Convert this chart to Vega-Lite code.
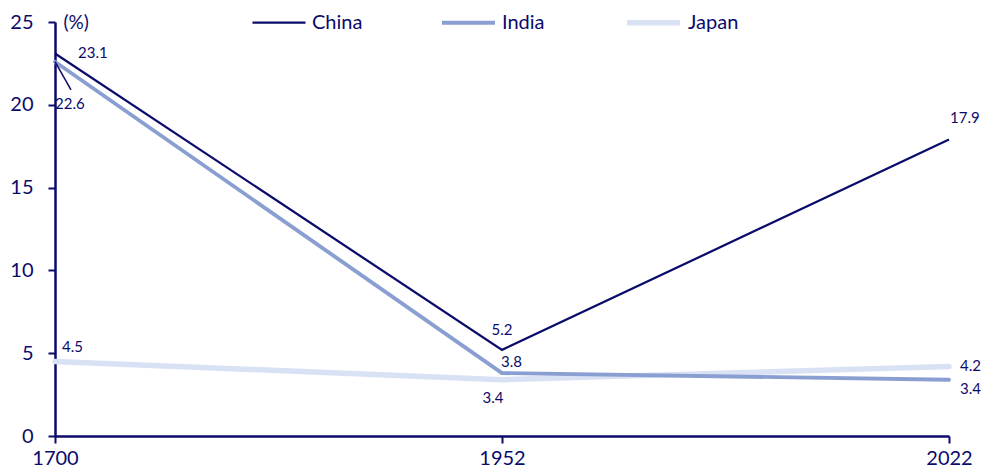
{
  "$schema": "https://vega.github.io/schema/vega-lite/v6.json",
  "width": 894,
  "height": 414,
  "autosize": "none",
  "padding": {"left": 55, "top": 22, "right": 35, "bottom": 36},
  "background": "white",
  "config": {
    "font": "Lato",
    "view": {"stroke": null},
    "text": {"font": "Lato", "fontSize": 15, "color": "#0b0b6b"}
  },
  "data": {
    "values": [
      {"year": "1700", "series": "China", "value": 23.1},
      {"year": "1952", "series": "China", "value": 5.2},
      {"year": "2022", "series": "China", "value": 17.9},
      {"year": "1700", "series": "India", "value": 22.6},
      {"year": "1952", "series": "India", "value": 3.8},
      {"year": "2022", "series": "India", "value": 3.4},
      {"year": "1700", "series": "Japan", "value": 4.5},
      {"year": "1952", "series": "Japan", "value": 3.4},
      {"year": "2022", "series": "Japan", "value": 4.2}
    ]
  },
  "encoding": {
    "x": {
      "field": "year",
      "type": "ordinal",
      "scale": {"type": "point", "padding": 0},
      "axis": {
        "title": null,
        "labelAngle": 0,
        "labelFont": "Lato",
        "labelFontSize": 20,
        "labelColor": "#0b0b6b",
        "labelPadding": 5,
        "domainColor": "#0b0b6b",
        "domainWidth": 2.5,
        "tickColor": "#0b0b6b",
        "tickWidth": 2,
        "tickSize": 7
      }
    },
    "y": {
      "field": "value",
      "type": "quantitative",
      "scale": {"domain": [0, 25], "nice": false, "zero": true},
      "axis": {
        "title": "(%)",
        "titleAngle": 0,
        "titleAlign": "left",
        "titleBaseline": "middle",
        "titleX": 8,
        "titleY": 0,
        "titleFont": "Lato",
        "titleFontSize": 19,
        "titleFontWeight": "normal",
        "titleColor": "#0b0b6b",
        "values": [0, 5, 10, 15, 20, 25],
        "grid": false,
        "labelFont": "Lato",
        "labelFontSize": 20,
        "labelColor": "#0b0b6b",
        "labelPadding": 15,
        "domainColor": "#0b0b6b",
        "domainWidth": 2.5,
        "tickColor": "#0b0b6b",
        "tickWidth": 2,
        "tickSize": 7
      }
    }
  },
  "layer": [
    {
      "transform": [{"filter": "datum.series === 'Japan'"}],
      "mark": {"type": "line", "strokeCap": "round", "strokeJoin": "round"},
      "encoding": {
        "color": {"field": "series", "type": "nominal"},
        "strokeWidth": {"field": "series", "type": "nominal"}
      }
    },
    {
      "transform": [{"filter": "datum.series === 'India'"}],
      "mark": {"type": "line", "strokeCap": "round", "strokeJoin": "round"},
      "encoding": {
        "color": {"field": "series", "type": "nominal"},
        "strokeWidth": {"field": "series", "type": "nominal"}
      }
    },
    {
      "transform": [{"filter": "datum.series === 'China'"}],
      "mark": {"type": "line", "strokeJoin": "miter"},
      "encoding": {
        "color": {
          "field": "series",
          "type": "nominal",
          "scale": {"domain": ["China", "India", "Japan"], "range": ["#0b0b6b", "#8a9fd1", "#d9e1f4"]},
          "legend": {
            "title": null,
            "orient": "none",
            "direction": "horizontal",
            "legendX": 196,
            "legendY": -29,
            "symbolType": "stroke",
            "symbolSize": 2809,
            "labelFont": "Lato",
            "labelFontSize": 20,
            "labelColor": "#0b0b6b",
            "labelOffset": 5,
            "columnPadding": 71
          }
        },
        "strokeWidth": {
          "field": "series",
          "type": "nominal",
          "scale": {"domain": ["China", "India", "Japan"], "range": [2.25, 5.5, 5.5]},
          "legend": {
            "title": null,
            "orient": "none",
            "direction": "horizontal",
            "legendX": 196,
            "legendY": -29,
            "symbolType": "stroke",
            "symbolSize": 2809,
            "labelFont": "Lato",
            "labelFontSize": 20,
            "labelColor": "#0b0b6b",
            "labelOffset": 5,
            "columnPadding": 71
          }
        }
      }
    },
    {
      "transform": [{"filter": "datum.series === 'India' && datum.year === '1700'"}],
      "mark": {"type": "rule", "color": "#0b0b6b", "strokeWidth": 1.5, "x2Offset": 16},
      "encoding": {
        "x2": {"field": "year"},
        "y2": {"datum": 20.9}
      }
    },
    {
      "transform": [{"filter": "datum.series === 'China' && datum.year === '1700'"}],
      "mark": {"type": "text", "align": "left", "baseline": "middle", "dx": 23, "dy": 0},
      "encoding": {"text": {"field": "value", "format": ".1f"}}
    },
    {
      "transform": [{"filter": "datum.series === 'India' && datum.year === '1700'"}],
      "mark": {"type": "text", "align": "left", "baseline": "middle", "dx": 0, "dy": 42},
      "encoding": {"text": {"field": "value", "format": ".1f"}}
    },
    {
      "transform": [{"filter": "datum.series === 'Japan' && datum.year === '1700'"}],
      "mark": {"type": "text", "align": "left", "baseline": "middle", "dx": 7, "dy": -14},
      "encoding": {"text": {"field": "value", "format": ".1f"}}
    },
    {
      "transform": [{"filter": "datum.series === 'China' && datum.year === '1952'"}],
      "mark": {"type": "text", "align": "center", "baseline": "middle", "dx": 0, "dy": -20},
      "encoding": {"text": {"field": "value", "format": ".1f"}}
    },
    {
      "transform": [{"filter": "datum.series === 'India' && datum.year === '1952'"}],
      "mark": {"type": "text", "align": "left", "baseline": "middle", "dx": -1, "dy": -11},
      "encoding": {"text": {"field": "value", "format": ".1f"}}
    },
    {
      "transform": [{"filter": "datum.series === 'Japan' && datum.year === '1952'"}],
      "mark": {"type": "text", "align": "center", "baseline": "middle", "dx": -9, "dy": 18},
      "encoding": {"text": {"field": "value", "format": ".1f"}}
    },
    {
      "transform": [{"filter": "datum.series === 'China' && datum.year === '2022'"}],
      "mark": {"type": "text", "align": "left", "baseline": "middle", "dx": 1, "dy": -22},
      "encoding": {"text": {"field": "value", "format": ".1f"}}
    },
    {
      "transform": [{"filter": "datum.series === 'Japan' && datum.year === '2022'"}],
      "mark": {"type": "text", "align": "left", "baseline": "middle", "dx": 11, "dy": 0},
      "encoding": {"text": {"field": "value", "format": ".1f"}}
    },
    {
      "transform": [{"filter": "datum.series === 'India' && datum.year === '2022'"}],
      "mark": {"type": "text", "align": "left", "baseline": "middle", "dx": 11, "dy": 9},
      "encoding": {"text": {"field": "value", "format": ".1f"}}
    }
  ]
}
